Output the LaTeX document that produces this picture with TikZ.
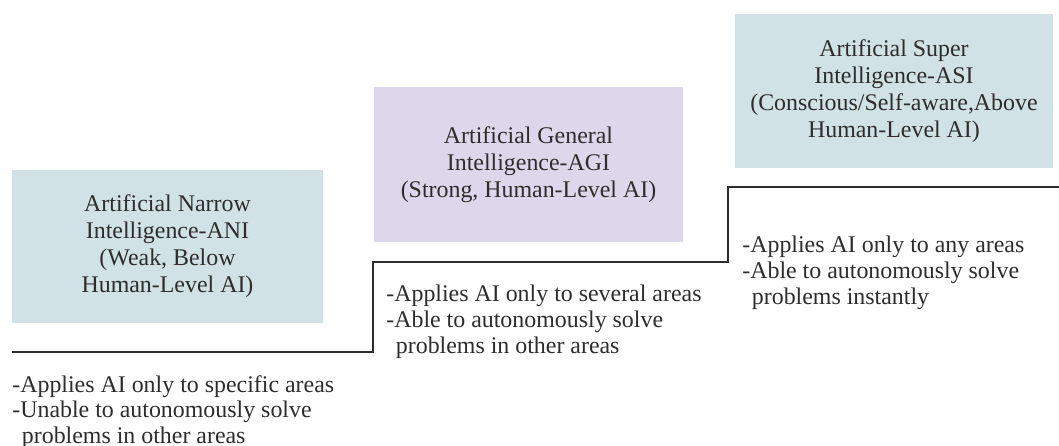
\documentclass[tikz,border=0pt]{standalone}
\usepackage{fontspec}
\setmainfont{Liberation Serif}
\newfontfamily\stepfont{Liberation Serif}
\usepackage{xcolor}
\usepackage{tikz}

\definecolor{boxblue}{RGB}{208,226,229}
\definecolor{boxlilac}{RGB}{221,215,236}
\definecolor{inkgray}{RGB}{45,45,45}

\tikzset{
  levelbox/.style={draw=none,align=center,inner sep=0pt,text=inkgray,
    font=\stepfont\fontsize{13.6}{15.4}\selectfont},
  notes/.style={anchor=north west,align=left,inner sep=0pt,text=inkgray,
    font=\stepfont\fontsize{13.6}{14.6}\selectfont},
  stair/.style={draw=inkgray,line width=1.1pt}
}

\begin{document}
\begin{tikzpicture}[x=0.02cm,y=-0.02cm]
        \useasboundingbox (0,0) rectangle (1059,446);
        % Level boxes
        \node[levelbox,fill=boxblue,minimum width=311*0.02cm,minimum height=153*0.02cm] (ani) at (167.5,246.5)
            {Artificial Narrow\\Intelligence-ANI\\(Weak, Below\\Human-Level AI)};
        \node[levelbox,fill=boxlilac,minimum width=309*0.02cm,minimum height=155*0.02cm] (agi) at (528.5,164.5)
            {Artificial General\\Intelligence-AGI\\(Strong, Human-Level AI)};
        \node[levelbox,fill=boxblue,minimum width=318*0.02cm,minimum height=154*0.02cm] (asi) at (894,91)
            {Artificial Super\\Intelligence-ASI\\(Conscious/Self-aware,Above\\Human-Level AI)};
        % Staircase corners
        \coordinate (s0) at (12,352);
        \coordinate (s1) at (373,352);
        \coordinate (s2) at (373,262);
        \coordinate (s3) at (728,262);
        \coordinate (s4) at (728,187);
        \coordinate (s5) at (1059,187);
        \draw[stair] (s0) -- (s1) -- (s2) -- (s3) -- (s4) -- (s5);
        % Notes under each step
        \node[notes] (aninotes) at (12,375)
            {-Applies AI only to specific areas\\-Unable to autonomously solve\\\hspace*{0.4em}problems in other areas};
        \node[notes] (aginotes) at (386,285)
            {-Applies AI only to several areas\\-Able to autonomously solve\\\hspace*{0.4em}problems in other areas};
        \node[notes] (asinotes) at (742,236)
            {-Applies AI only to any areas\\-Able to autonomously solve\\\hspace*{0.4em}problems instantly};
    \end{tikzpicture}
\end{document}
